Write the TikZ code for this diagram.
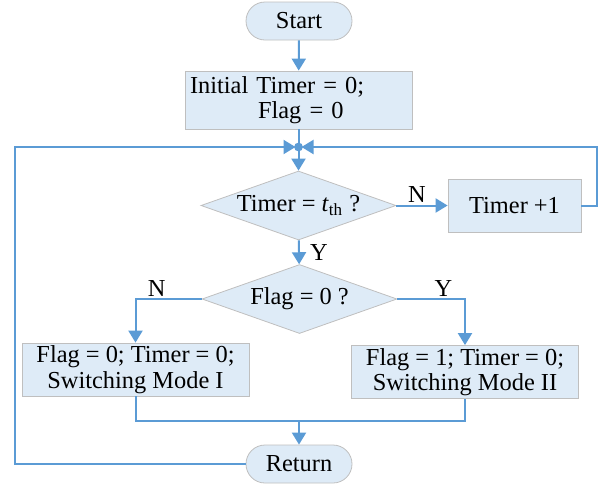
\documentclass[tikz,border=0pt]{standalone}
\usepackage{fontspec}
\setmainfont{Liberation Serif}
\usetikzlibrary{arrows.meta, shapes.geometric}
\definecolor{flowblue}{RGB}{91,155,213}
\definecolor{boxfill}{RGB}{222,235,247}
\definecolor{boxline}{RGB}{191,191,191}

\begin{document}
\begin{tikzpicture}[x=0.5pt, y=-0.5pt, font=\fontsize{12.2}{12.8}\selectfont,
    box/.style={draw=boxline, fill=boxfill, rectangle, inner sep=0pt, align=center},
    term/.style={box, rounded corners=9.5pt, minimum width=53pt, minimum height=19pt},
    decide/.style={draw=boxline, fill=boxfill, diamond, inner sep=0pt, aspect=2.8, minimum width=97.5pt, minimum height=34.5pt},
    flow/.style={flowblue, line width=1pt},
    arr/.style={flow, -{Triangle[length=6pt, width=7pt]}},
    lbl/.style={text=black, inner sep=1pt}]

    \useasboundingbox (0,0) rectangle (603,483);

    \node (start)  [term] at (299,21) {Start};
    \node (init)   [box, minimum width=113.5pt, minimum height=29pt, text width=108.5pt, align=left] at (298.5,100) {Initial Timer = 0;\\\hspace*{34pt}Flag = 0};
    \coordinate (join) at (298.5,147);
    \node (check)  [decide] at (298.5,205.5) {Timer = \textit{t}\textsubscript{th} ?};
    \node (inc)    [box, minimum width=66.5pt, minimum height=26.5pt] at (514.5,205.5) {Timer +1};
    \node (flag)   [decide] at (299.5,299) {Flag = 0 ?};
    \node (modeI)  [box, minimum width=113.5pt, minimum height=26.5pt] at (135.5,369.5) {Flag = 0; Timer = 0;\\Switching Mode I};
    \node (modeII) [box, minimum width=113.5pt, minimum height=26.5pt] at (465,372) {Flag = 1; Timer = 0;\\Switching Mode II};
    \coordinate (merge) at (299,420.5);
    \node (ret)    [term] at (299,464) {Return};

    \draw [arr] (start) -- (init);
    \draw [flow] (init) -- (join);
    \draw [arr] (join) -- (check);
    \draw [arr] (check) -- node[lbl, above, pos=0.4] {N} (inc);
    \draw [arr] (check) -- node[lbl, right, xshift=4pt] {Y} (flag);

    \draw [arr] (flag.west) -| node[lbl, above, pos=0.34] {N} (modeI);
    \draw [arr] (flag.east) -| node[lbl, above, pos=0.34] {Y} (modeII);

    \draw [flow] (modeI) |- (merge) -| (modeII);
    \draw [arr] (merge) -- (ret);

    % loops back to the junction
    \draw [arr, shorten >=1.5pt] (ret.west) -- ++(-231,0) |- (join);
    \draw [arr, shorten >=1.5pt] (inc.east) -- ++(16,0) |- (join);
    \fill [flowblue] (join) circle (2.2pt);

\end{tikzpicture}
\end{document}
